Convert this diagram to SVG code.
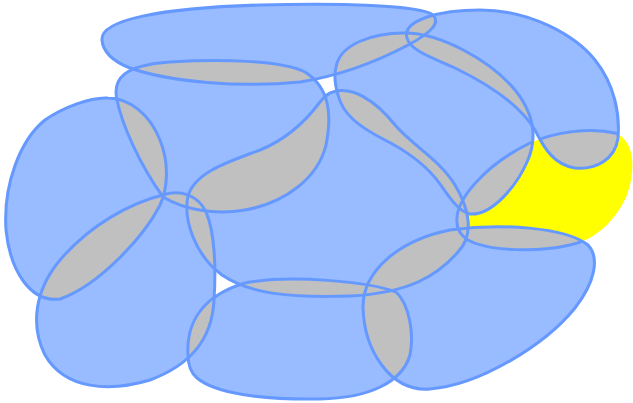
<svg xmlns="http://www.w3.org/2000/svg" width="633" height="403" viewBox="0 0 633 403">
<style>
.blue{fill:#99bbff;stroke:none}
.grey{fill:#c0c0c0;stroke:none}
.line{fill:none;stroke:#6699ff;stroke-width:3}
.yellow{fill:#ffff00;stroke:none}
</style>
<defs>
<path id="A" d="M102,40 C100,20 160,8 260,5 C340,3 420,5 433,15 C441,23 430,33 410,44 C380,60 345,75 300,82 C240,88 170,82 130,68 C112,61 103,51 102,40 Z"/>
<path id="B" d="M163,197 C185,210 215,215 245,210 C285,203 318,178 326,145 C332,115 330,88 305,72 C280,60 220,59 170,62 C125,65 112,78 117,100 C122,125 140,165 163,197 Z"/>
<path id="C" d="M108,98 C130,98 150,115 160,140 C170,165 167,190 160,205 C145,235 100,285 60,299 C30,303 10,270 6,230 C3,185 20,140 45,120 C62,108 90,97 108,98 Z"/>
<path id="D" d="M163,195 C180,189 198,195 206,212 C215,232 216,270 214,300 C212,340 190,365 150,380 C110,392 65,390 45,355 C30,325 35,290 60,260 C90,225 130,203 163,195 Z"/>
<path id="E" d="M188,355 C186,320 205,295 245,283 C290,274 370,282 396,292 C410,305 414,335 410,355 C402,382 370,398 320,399 C260,400 215,393 197,378 C190,372 188,364 188,355 Z"/>
<path id="F" d="M363,307 C363,270 400,240 450,230 C500,223 565,227 588,245 C600,258 595,282 575,308 C545,345 480,385 430,389 C390,392 364,350 363,307 Z"/>
<path id="G" d="M333,92 C352,86 375,100 395,125 C412,145 440,160 455,185 C470,210 474,235 458,252 C438,275 410,293 350,296 C290,298 250,294 222,275 C195,255 183,220 188,196 C195,172 228,162 260,150 C290,138 308,118 320,102 C325,96 328,93 333,92 Z"/>
<path id="H" d="M336,67 C340,45 370,33 405,33 C440,33 490,60 515,90 C535,115 537,140 527,162 C517,185 492,216 470,214 C458,211 450,198 440,184 C425,163 405,150 383,139 C360,127 343,115 338,95 C335,85 334,75 336,67 Z"/>
<path id="I" d="M407,38 C402,20 440,10 480,10 C530,10 575,35 595,60 C615,85 620,115 618,138 C615,160 595,170 575,168 C555,165 545,150 535,130 C520,105 490,85 455,68 C430,57 410,50 407,38 Z"/>
<path id="J" d="M457,222 C455,200 485,165 530,143 C555,132 590,127 615,133 C635,140 636,170 627,195 C615,222 595,240 570,245 C540,252 490,252 468,240 C460,235 457,229 457,222 Z"/>
<clipPath id="xA"><use href="#B"/><use href="#C"/><use href="#D"/><use href="#E"/><use href="#F"/><use href="#G"/><use href="#H"/><use href="#I"/><use href="#J"/></clipPath>
<clipPath id="xB"><use href="#A"/><use href="#C"/><use href="#D"/><use href="#E"/><use href="#F"/><use href="#G"/><use href="#H"/><use href="#I"/><use href="#J"/></clipPath>
<clipPath id="xC"><use href="#A"/><use href="#B"/><use href="#D"/><use href="#E"/><use href="#F"/><use href="#G"/><use href="#H"/><use href="#I"/><use href="#J"/></clipPath>
<clipPath id="xD"><use href="#A"/><use href="#B"/><use href="#C"/><use href="#E"/><use href="#F"/><use href="#G"/><use href="#H"/><use href="#I"/><use href="#J"/></clipPath>
<clipPath id="xE"><use href="#A"/><use href="#B"/><use href="#C"/><use href="#D"/><use href="#F"/><use href="#G"/><use href="#H"/><use href="#I"/><use href="#J"/></clipPath>
<clipPath id="xF"><use href="#A"/><use href="#B"/><use href="#C"/><use href="#D"/><use href="#E"/><use href="#G"/><use href="#H"/><use href="#I"/><use href="#J"/></clipPath>
<clipPath id="xG"><use href="#A"/><use href="#B"/><use href="#C"/><use href="#D"/><use href="#E"/><use href="#F"/><use href="#H"/><use href="#I"/><use href="#J"/></clipPath>
<clipPath id="xH"><use href="#A"/><use href="#B"/><use href="#C"/><use href="#D"/><use href="#E"/><use href="#F"/><use href="#G"/><use href="#I"/><use href="#J"/></clipPath>
<clipPath id="xI"><use href="#A"/><use href="#B"/><use href="#C"/><use href="#D"/><use href="#E"/><use href="#F"/><use href="#G"/><use href="#H"/><use href="#J"/></clipPath>
<clipPath id="blues"><use href="#A"/><use href="#B"/><use href="#C"/><use href="#D"/><use href="#E"/><use href="#F"/><use href="#G"/><use href="#H"/><use href="#I"/></clipPath>
</defs>
<g id="yellow-blob"><use href="#J" class="yellow"/></g>
<g id="blob-fills">
<use href="#A" class="blue"/><use href="#B" class="blue"/><use href="#C" class="blue"/><use href="#D" class="blue"/><use href="#E" class="blue"/><use href="#F" class="blue"/><use href="#G" class="blue"/><use href="#H" class="blue"/><use href="#I" class="blue"/>
</g>
<g id="overlaps">
<use href="#A" class="grey" clip-path="url(#xA)"/>
<use href="#B" class="grey" clip-path="url(#xB)"/>
<use href="#C" class="grey" clip-path="url(#xC)"/>
<use href="#D" class="grey" clip-path="url(#xD)"/>
<use href="#E" class="grey" clip-path="url(#xE)"/>
<use href="#F" class="grey" clip-path="url(#xF)"/>
<use href="#G" class="grey" clip-path="url(#xG)"/>
<use href="#H" class="grey" clip-path="url(#xH)"/>
<use href="#I" class="grey" clip-path="url(#xI)"/>
</g>
<g id="outlines">
<use href="#A" class="line"/><use href="#B" class="line"/><use href="#C" class="line"/><use href="#D" class="line"/><use href="#E" class="line"/><use href="#F" class="line"/><use href="#G" class="line"/><use href="#H" class="line"/><use href="#I" class="line"/>
<use href="#J" class="line" clip-path="url(#blues)"/>
</g>
</svg>
